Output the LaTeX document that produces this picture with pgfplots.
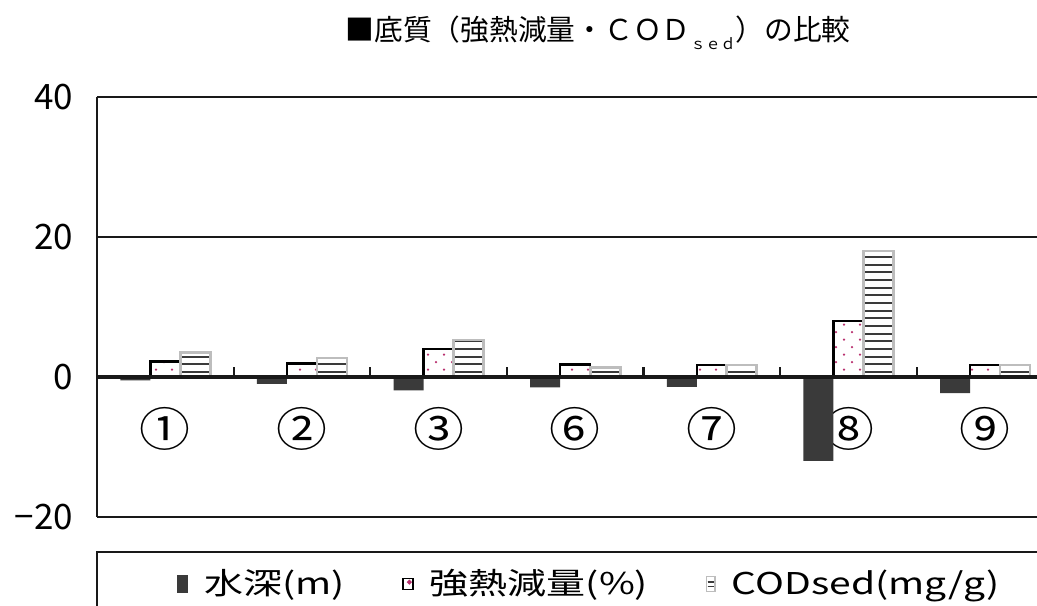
\documentclass[border=0pt]{standalone}
\usepackage{fontspec}
\usepackage{pgfplots}
\pgfplotsset{compat=1.18}
\usetikzlibrary{patterns}
\setmainfont{Noto Sans CJK JP}
\newfontfamily\legfont{Noto Sans CJK JP}[FakeStretch=1.3]
\newfontfamily\catfont{Noto Sans CJK JP}[FakeStretch=1.1]
\definecolor{barblk}{HTML}{3A3A3A}
\definecolor{dotpink}{HTML}{B8306E}
\definecolor{codgray}{HTML}{BDBDBD}
% wide tile so the hatch lines have no seams inside a bar
\pgfdeclarepatternformonly{widehlines}{\pgfpoint{-1pt}{-1pt}}{\pgfpoint{401pt}{4.07pt}}{\pgfpoint{400pt}{3.07pt}}{
  \pgfsetlinewidth{0.8pt}
  \pgfpathmoveto{\pgfpoint{-1pt}{1.5pt}}
  \pgfpathlineto{\pgfpoint{401pt}{1.5pt}}
  \pgfusepath{stroke}}
\pgfdeclarepatternformonly{pinkdots}{\pgfpoint{-1pt}{-1pt}}{\pgfpoint{7.4pt}{7pt}}{\pgfpoint{6.4pt}{6pt}}{
  \pgfpathcircle{\pgfpoint{1.6pt}{1.5pt}}{0.5pt}
  \pgfpathcircle{\pgfpoint{4.8pt}{4.5pt}}{0.5pt}
  \pgfusepath{fill}}
\begin{document}
\begin{tikzpicture}
\path[use as bounding box] (0,0) rectangle (414.8pt,242.4pt);
\begin{axis}[
  at={(38.8pt,35.6pt)}, anchor=south west,
  scale only axis,
  width=376pt, height=168pt,
  xmin=-0.5, xmax=6.38,
  ymin=-20, ymax=40,
  ybar=0pt, bar width=12pt,
  axis lines*=left,
  axis line style={line width=1pt, color=black!90},
  ytick={-20,0,20,40},
  yticklabels={−20,0,20,40},
  yticklabel style={font=\fontsize{14}{16}\selectfont, xshift=-6pt},
  xtick=data,
  xticklabels={①,②,③,⑥,⑦,⑧,⑨},
  xticklabel style={font=\catfont\fontsize{18.5}{20}\selectfont, anchor=center, yshift=35.2pt},
  major tick length=0pt,
  ymajorgrids,
  grid style={line width=1pt, color=black!90},
  legend columns=3,
  legend style={at={(0.085,-0.16)}, anchor=west, draw=none, fill=none, inner sep=0pt,
    font=\legfont\fontsize{12}{14}\selectfont,
    /tikz/every even column/.append style={column sep=21pt},
    /tikz/every odd column/.append style={column sep=4.5pt}},
]
\addplot[fill=barblk, draw=none,
  legend image code/.code={\fill[barblk] (0pt,-3.7pt) rectangle (4.2pt,3.7pt);}]
  coordinates {(0,-0.5) (1,-1.0) (2,-1.9) (3,-1.5) (4,-1.4) (5,-12.0) (6,-2.3)};
\addlegendentry{水深(m)}
\addplot[draw=black, line width=1pt,
  pattern=pinkdots, pattern color=dotpink,
  legend image code/.code={\draw[line width=0.6pt, fill=white] (0pt,-2.2pt) rectangle (4pt,2.2pt);
    \fill[dotpink] (2.6pt,0.8pt) circle (0.35pt);}]
  coordinates {(0,2.2) (1,1.9) (2,4.0) (3,1.8) (4,1.7) (5,8.0) (6,1.7)};
\addlegendentry{強熱減量(\%)}
\addplot[draw=codgray, line width=1.1pt,
  pattern=widehlines, pattern color=barblk,
  legend image code/.code={\draw[codgray, line width=0.6pt, fill=white] (0pt,-3pt) rectangle (3.4pt,3pt);
    \draw[barblk, line width=0.5pt] (0.5pt,0.9pt) -- (2.9pt,0.9pt) (0.5pt,-0.9pt) -- (2.9pt,-0.9pt);}]
  coordinates {(0,3.5) (1,2.7) (2,5.3) (3,1.4) (4,1.7) (5,18.0) (6,1.7)};
\addlegendentry{CODsed(mg/g)}
\draw[line width=1.4pt, black!90] (axis cs:-0.5,0) -- (axis cs:6.38,0);
\pgfplotsinvokeforeach{0.5,1.5,2.5,3.5,4.5,5.5}{
  \draw[line width=0.9pt, black!90] (axis cs:#1,0) -- ([yshift=3.8pt]axis cs:#1,0);
}
\end{axis}
\draw[line width=1pt, black!90] (38.8pt,0pt) -- (38.8pt,21.6pt) -- (414.8pt,21.6pt);
\node[font=\fontsize{11.5}{13}\selectfont] at (239.2pt,229.2pt)
  {■底質（強熱減量・ＣＯＤ\raisebox{-0.6ex}{\fontsize{6}{6}\selectfont ｓｅｄ}）の比較};
\end{tikzpicture}
\end{document}
